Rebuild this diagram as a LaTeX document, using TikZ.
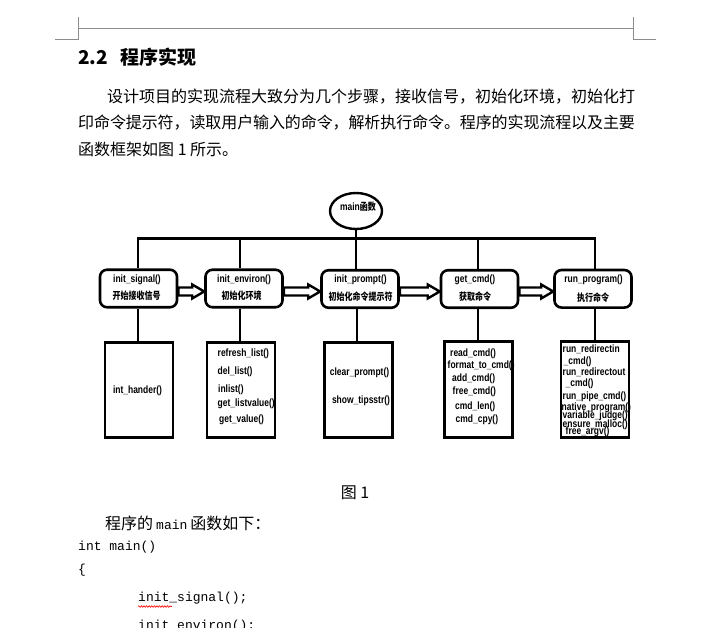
\documentclass[tikz,border=0pt]{standalone}
\usepackage{fontspec}
\usetikzlibrary{calc,shapes.geometric,decorations.pathmorphing}
\newfontfamily\cjk{Noto Sans CJK SC}
\newfontfamily\cjkd{Noto Sans CJK SC}[FakeStretch=0.8]
\newfontfamily\dfont{Liberation Sans}[FakeStretch=0.8]
\newfontfamily\code{Liberation Mono}
\definecolor{pagemark}{RGB}{140,140,140}
\tikzset{
  topbox/.style={draw, fill=white, line width=2.6pt, rounded corners=7pt,
    minimum width=77pt, minimum height=37.5pt, inner sep=0pt},
  subbox/.style={draw, fill=white, line width=2.6pt,
    minimum width=68pt, minimum height=95.5pt, inner sep=0pt},
  bus/.style={line width=3pt},
  vline/.style={line width=2pt},
  lat/.style={font={\dfont\bfseries\fontsize{10.6pt}{10.6pt}\selectfont}, inner sep=0pt},
  chn/.style={font={\cjkd\bfseries\fontsize{10pt}{10pt}\selectfont}, inner sep=0pt},
  body/.style={font={\cjk\fontsize{16pt}{16pt}\selectfont}, inner sep=0pt, anchor=west},
  codetext/.style={font={\code\fontsize{13pt}{13pt}\selectfont}, inner sep=0pt, anchor=west},
  blockarrow/.style={draw, fill=white, line width=2.4pt, line join=miter,
    to path={let \p1=(\tikztostart), \p2=(\tikztotarget) in
      (\x1,\y1+4pt) -- (\x2-12pt,\y1+4pt) -- (\x2-12pt,\y1+7pt) -- (\x2,\y1)
      -- (\x2-12pt,\y1-7pt) -- (\x2-12pt,\y1-4pt) -- (\x1,\y1-4pt) -- cycle}}
}
\begin{document}
\begin{tikzpicture}[x=1pt,y=-1pt]
\fill[white] (0,0) rectangle (717,628);
\useasboundingbox (0,0) rectangle (717,628);
\clip (0,0) rectangle (717,628);

% page corner marks
\draw[pagemark, line width=1pt] (55,40) -- (78,40) -- (78,17);
\draw[pagemark, line width=1pt] (78,29) -- (633,29);
\draw[pagemark, line width=1pt] (656,40) -- (633,40) -- (633,17);

% heading and body text
\node[anchor=west, inner sep=0pt, font={\cjk\bfseries\fontsize{19pt}{19pt}\selectfont}] (head) at (78,57) {\makebox[42pt][l]{2.2}程序实现};
\node[body] (p1) at (107,97) {设计项目的实现流程大致分为几个步骤，接收信号，初始化环境，初始化打};
\node[body] (p2) at (78,123) {\addfontfeature{LetterSpace=-0.6}印命令提示符，读取用户输入的命令，解析执行命令。程序的实现流程以及主要};
\node[body] (p3) at (78,149) {函数框架如图 1 所示。};

% diagram
\node[draw, ellipse, fill=white, line width=2.4pt, minimum width=52pt, minimum height=36pt, inner sep=0pt] (m) at (356,211) {};
\node[inner sep=0pt] (mlbl) at (358,207) {{\dfont\bfseries\fontsize{10.6pt}{10.6pt}\selectfont main}{\cjkd\bfseries\fontsize{10pt}{10pt}\selectfont 函数}};

\node[topbox] (s1) at (138.5,288.5) {};
\node[topbox] (s2) at (244,288.5) {};
\node[topbox] (s3) at (360,289) {};
\node[topbox] (s4) at (479.5,289) {};
\node[topbox] (s5) at (593,288.8) {};

\node[subbox] (t1) at (139,390) {};
\node[subbox] (t2) at (241,390) {};
\node[subbox] (t3) at (358.5,390) {};
\node[subbox] (t4) at (478.5,389.5) {};
\node[subbox] (t5) at (595,389.5) {};

\coordinate (v1) at (138,238.5);
\coordinate (v2) at (240,238.5);
\coordinate (v3) at (356.5,238.5);
\coordinate (v4) at (477.5,238.5);
\coordinate (v5) at (595,238.5);

\draw[bus] ([xshift=-1pt]v1) -- ([xshift=1pt]v5);
\draw[vline] (m.south) -- (m.south |- s3.north);
\foreach \i in {1,2,4,5} {
  \draw[vline] (v\i) -- (v\i |- s\i.north);
}
\foreach \i in {1,...,5} {
  \draw[vline] (v\i |- s\i.south) -- (v\i |- t\i.north);
}

\draw[blockarrow] ([yshift=-3pt]s1.east) to ([yshift=-3pt]s2.west);
\draw[blockarrow] ([yshift=-3pt]s2.east) to ([yshift=-3pt]s3.west);
\draw[blockarrow] ([yshift=-2.5pt]s3.east) to ([yshift=-2.5pt]s4.west);
\draw[blockarrow] ([yshift=-2.5pt]s4.east) to ([yshift=-2.5pt]s5.west);

% top box labels
\node[lat] (s1a) at (137,280) {init\_signal()};
\node[chn] (s1b) at (136.5,296) {开始接收信号};
\node[lat] (s2a) at (244,280) {init\_environ()};
\node[chn] (s2b) at (241.5,296) {初始化环境};
\node[lat] (s3a) at (360.5,279.5) {init\_prompt()};
\node[chn] (s3b) at (360.5,296.5) {初始化命令提示符};
\node[lat] (s4a) at (475,279.5) {get\_cmd()};
\node[chn] (s4b) at (475,297) {获取命令};
\node[lat] (s5a) at (593.5,280) {run\_program()};
\node[chn] (s5b) at (593,297.5) {执行命令};

% sub box labels
\node[lat] (t1a) at (137.5,390.7) {int\_hander()};

\node[lat, anchor=west] (t2a) at (217.5,354) {refresh\_list()};
\node[lat, anchor=west] (t2b) at (217.5,371.7) {del\_list()};
\node[lat, anchor=west] (t2c) at (218,389.5) {inlist()};
\node[lat, anchor=west] (t2d) at (217.5,404) {get\_listvalue()};
\node[lat, anchor=west] (t2e) at (219,420) {get\_value()};

\node[lat] (t3a) at (359.5,373) {clear\_prompt()};
\node[lat] (t3b) at (361,400.7) {show\_tipsstr()};

\node[lat, anchor=west] (t4a) at (450,353.5) {read\_cmd()};
\node[lat, anchor=west] (t4b) at (447.5,365.5) {format\_to\_cmd()};
\node[lat, anchor=west] (t4c) at (452,378.5) {add\_cmd()};
\node[lat, anchor=west] (t4d) at (452.5,391.5) {free\_cmd()};
\node[lat, anchor=west] (t4e) at (455,406.5) {cmd\_len()};
\node[lat, anchor=west] (t4f) at (455.5,420) {cmd\_cpy()};

\node[lat, anchor=west] (t5a) at (562.5,349) {run\_redirectin};
\node[lat, anchor=west] (t5b) at (563.5,361.5) {\_cmd()};
\node[lat, anchor=west] (t5c) at (562.5,372.5) {run\_redirectout};
\node[lat, anchor=west] (t5d) at (565.5,383.5) {\_cmd()};
\node[lat, anchor=west] (t5e) at (562.5,396.5) {run\_pipe\_cmd()};
\node[lat, anchor=west] (t5f) at (561.5,407.5) {native\_program()};
\node[lat, anchor=west] (t5g) at (562.5,416) {variable\_judge()};
\node[lat, anchor=west] (t5h) at (562.5,424.5) {ensure\_malloc()};
\node[lat, anchor=west] (t5i) at (565.5,431.5) {free\_argv()};

% caption and code
\node[font={\cjk\fontsize{16pt}{16pt}\selectfont}, inner sep=0pt] (cap) at (355,493) {图 1};
\node[body] (intro) at (105,523.5) {程序的{\code\fontsize{13pt}{13pt}\selectfont\hspace{3pt}main\hspace{3pt}}函数如下：};
\node[codetext] (c1) at (78,547) {int main()};
\node[codetext] (c2) at (78,570) {\{};
\node[codetext] (c3) at (138,598.5) {init\_signal();};
\node[codetext] (c4) at (138,626) {init\_environ();};
\draw[red, line width=0.6pt, decorate, decoration={snake, amplitude=0.8pt, segment length=2.6pt}] (138,606.5) -- (172,606.5);
\end{tikzpicture}
\end{document}
